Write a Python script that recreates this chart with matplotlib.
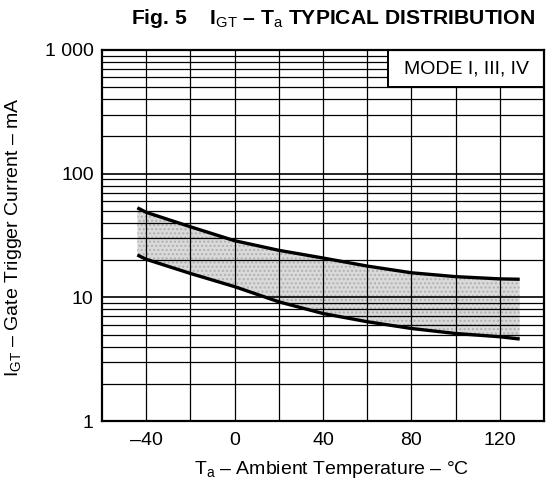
import numpy as np
import matplotlib
matplotlib.use("Agg")
import matplotlib.pyplot as plt
from matplotlib.patches import Rectangle

plt.rcParams['font.family'] = ['Liberation Sans', 'DejaVu Sans']
plt.rcParams['mathtext.fontset'] = 'custom'
plt.rcParams['mathtext.rm'] = 'Liberation Sans'
plt.rcParams['mathtext.it'] = 'Liberation Sans:italic'
plt.rcParams['mathtext.bf'] = 'Liberation Sans:bold'

# Ambient temperature (°C) and gate trigger current envelope (mA)
temps = [-44, -40, -20, 0, 20, 40, 60, 80, 100, 120, 129]
igt_max = [53, 48.7, 37.2, 28.7, 24.0, 20.8, 17.9, 15.8, 14.7, 14.1, 14.0]
igt_min = [22, 20.3, 15.6, 12.2, 9.2, 7.4, 6.35, 5.6, 5.1, 4.8, 4.6]

x_ticks = [-40, 0, 40, 80, 120]
x_tick_labels = ["–40", "0", "40", "80", "120"]
y_ticks = [1, 10, 100, 1000]
y_tick_labels = ["1", "10", "100", "1 000"]

FS = 14

fig = plt.figure(figsize=(5.46, 4.91), dpi=100)
ax = fig.add_axes([102/546, 1 - 421/491, 442/546, 371/491])
ax.set_yscale('log')
ax.set_xlim(-60, 140)
ax.set_ylim(1, 1000)

# shaded distribution band
ax.fill_between(temps, igt_min, igt_max, facecolor='#dadada', edgecolor='none', zorder=1)
ax.fill_between(temps, igt_min, igt_max, facecolor='none', edgecolor='#b0b0b0',
                linewidth=0, hatch='....', zorder=1)

# log-paper grid
for dec in [1, 10, 100]:
    for m in range(1, 10):
        v = dec * m
        if v <= 1 or v >= 1000:
            continue
        lw = 1.2 if m == 1 else 0.9
        ax.axhline(v, color='black', linewidth=lw, zorder=2)
for t in range(-40, 140, 20):
    ax.axvline(t, color='black', linewidth=0.9, zorder=2)

# boundary curves
ax.plot(temps, igt_max, color='black', linewidth=2.4, solid_capstyle='butt', zorder=4)
ax.plot(temps, igt_min, color='black', linewidth=2.4, solid_capstyle='butt', zorder=4)

ax.set_xticks(x_ticks)
ax.set_xticklabels(x_tick_labels)
ax.set_yticks(y_ticks)
ax.set_yticklabels(y_tick_labels)
ax.yaxis.set_minor_locator(matplotlib.ticker.NullLocator())
ax.tick_params(axis='both', length=0, labelsize=FS)
ax.tick_params(axis='x', pad=8)
ax.tick_params(axis='y', pad=6)
for s in ax.spines.values():
    s.set_linewidth(1.6)
    s.set_zorder(6)

# mode box in the upper right corner
box_left = 0.648
box_bottom = 0.900
ax.add_patch(Rectangle((box_left, box_bottom), 1 - box_left, 1 - box_bottom,
                       transform=ax.transAxes, facecolor='white', edgecolor='black',
                       linewidth=1.4, zorder=5))
ax.text((box_left + 1) / 2, (box_bottom + 1) / 2, "MODE I, III, IV", transform=ax.transAxes,
        ha='center', va='center', fontsize=FS, zorder=6)

ax.set_xlabel(r"T$_{\mathrm{a}}$ – Ambient Temperature – °C", fontsize=FS)
ax.xaxis.set_label_coords((332 - 102) / 442, (421 - 470) / 371)
ax.set_ylabel(r"I$_{\mathrm{GT}}$ – Gate Trigger Current – mA", fontsize=FS)
ax.yaxis.set_label_coords((14 - 102) / 442, (421 - 237) / 371)
ax.xaxis.label.set_va('center')
ax.yaxis.label.set_va('center')

fig.text(131 / 546, 1 - 19 / 491, r"Fig. 5    I$_{\mathrm{GT}}$ – T$_{\mathrm{a}}$ TYPICAL DISTRIBUTION",
         ha='left', va='center', fontsize=15.2, fontweight='bold')

fig.savefig("out.png", dpi=100)
